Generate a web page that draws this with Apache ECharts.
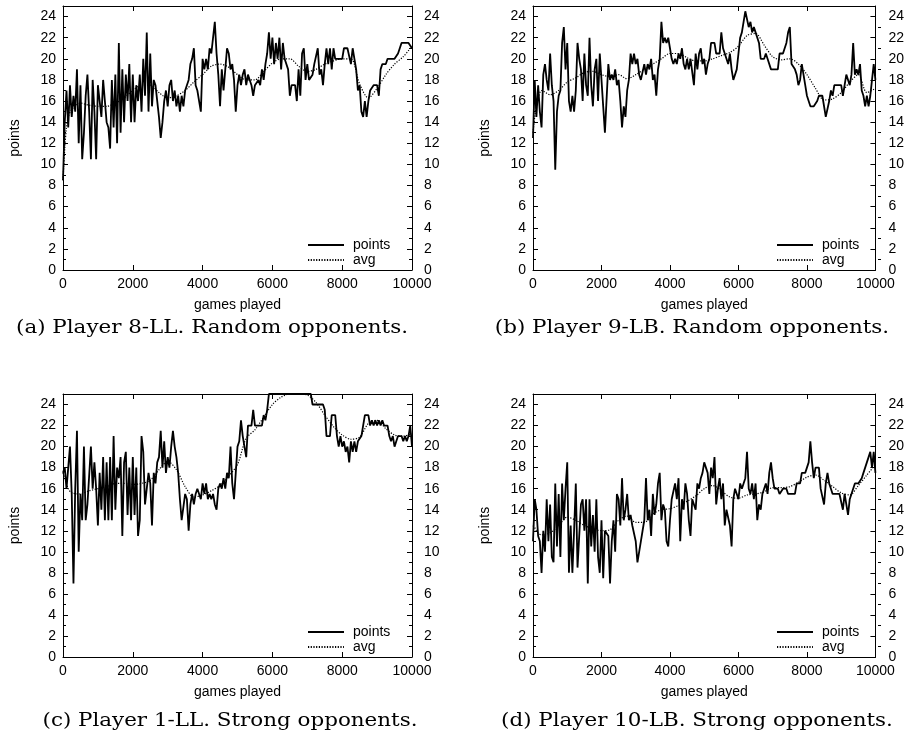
<!DOCTYPE html>
<html><head><meta charset="utf-8">
<script src="https://cdn.jsdelivr.net/npm/echarts@6/dist/echarts.min.js"></script>
<style>html,body{margin:0;padding:0;background:#fff}#c{width:907px;height:737px}</style>
</head><body><div id="c"></div>
<script>
// ---------- data ----------
const GAMES = [0,50,100,150,200,250,300,350,400,450,500,550,600,650,700,750,800,850,900,950,
1000,1050,1100,1150,1200,1250,1300,1350,1400,1450,1500,1550,1600,1650,1700,1750,1800,1850,1900,1950,
2000,2050,2100,2150,2200,2250,2300,2350,2400,2450,2500,2550,2600,2650,2700,2750,2800,2850,2900,2950,
3000,3050,3100,3150,3200,3250,3300,3350,3400,3450,3500,3550,3600,3650,3700,3750,3800,3850,3900,3950,
4000,4050,4100,4150,4200,4250,4300,4350,4400,4450,4500,4550,4600,4650,4700,4750,4800,4850,4900,4950,
5000,5050,5100,5150,5200,5250,5300,5350,5400,5450,5500,5550,5600,5650,5700,5750,5800,5850,5900,5950,
6000,6050,6100,6150,6200,6250,6300,6350,6400,6450,6500,6550,6600,6650,6700,6750,6800,6850,6900,6950,
7000,7050,7100,7150,7200,7250,7300,7350,7400,7450,7500,7550,7600,7650,7700,7750,7800,7850,7900,7950,
8000,8050,8100,8150,8200,8250,8300,8350,8400,8450,8500,8550,8600,8650,8700,8750,8800,8850,8900,8950,
9000,9050,9100,9150,9200,9250,9300,9350,9400,9450,9500,9550,9600,9650,9700,9750,9800,9850,9900,9950,
10000];
const AVG_GAMES = [0,50,100,150,250,500,750,1000,1250,1500,1750,2000,2250,2500,2750,3000,3250,3500,3750,4000,
4250,4500,4750,5000,5250,5500,5750,6000,6250,6500,6750,7000,7250,7500,7750,8000,8250,8500,8750,9000,
9250,9500,9750,10000];

const POINTS_A = [8.5,14,17,13.5,17.5,14.5,16.5,15,19,12,17.5,10.5,
13,16.5,18.5,15,10.5,18,15,10.5,17.5,16,14.5,18,16,14,13.5,11.5,18,13.5,18.5,12,
21.5,13,19,14,18.5,16,19.5,14,18.5,14,17.5,16,18.5,15,20,16.5,22.5,15,20.5,15.5,18,
17.5,16,14.5,12.5,14,16,17,15.5,17.5,18,16,17,15.5,16.5,15,16.5,15.5,17,17.5,18,19.5,20,
21,17.5,17,16,15,20,19,20,19,21,20.5,22,23.5,20.5,18.5,15.5,19,17,19,21,20.5,
19,19.5,18,15,17.5,18.5,17.5,18.5,19,17.5,18.5,18,17.5,16.5,17.5,17.5,18,17.5,19,18,19.5,
20.5,22.5,20,22,19.5,21.5,20,22,19,21.5,20,20,19,16.5,17.5,17.5,17.5,16,19,16.5,20.5,21,
18,19.5,18,18,18.5,19.5,19.5,21,18.5,19,17.5,19.5,21,19.5,21,19,21,20,20,20,20,
20,21,21,21,21,19.5,21,20,19,17,17.5,15,14.5,16,14.5,16,17,17,17.5,17.5,17.5,
16.5,19,19.5,19.5,19.5,20,20,20,20,20,20,20.5,21,21.5,21.5,21.5,21.5,21.5,21.5,21];
const AVG_A = [8.5,11.5,13.5,14.5,15.2,15.8,15.6,15.5,15.5,15.8,16.3,17,17.5,17.5,16.8,16.3,16.5,17,17.8,18.5,
19.3,19.5,19.2,18.5,18,18,18.8,19.6,20,20,19.3,18.8,19,19.5,19.8,20,20,17.6,16.3,17.2,
18.5,19.5,20.2,21.2];

const POINTS_B = [12.5,18,14.5,17.5,15,13.5,18.5,19.5,18,17,
20.5,17.5,16,9.5,15,16.5,17,21.5,23,19,
21.5,16,15,16.5,15,17,21.5,20,19,16,
20.5,17.5,16.5,22,17.5,15.5,19,20,16,20.5,
18,15.5,13,13,19.5,18,18.5,18,19,17.5,
18,16,13.5,15.5,14.5,17,18,20.5,19.5,20.5,
19.5,20,18.5,18,18,19.5,18.5,19.5,19,20,
18,18.5,16.5,19,20,23.5,21.5,22,21.5,22,
21,20,19.5,20,19.5,20.5,20,21,19.5,19,
20,19,20,20,17.5,20.5,19,20.5,21,19.5,
20,18.5,19.5,20,21.5,21.5,21.5,20.5,20.5,20.5,
22.5,21,20.5,20,19.5,20.5,19,18,18,19,
20.5,22,22.5,23.5,24.5,24.5,23,23.5,22.5,23,
22.5,22.5,21.5,20,20,20,20.5,20,20,19,
19,19,19,19,20.5,20.5,20.5,20.5,21.5,22.5,
23,19.5,19.5,19,18.5,17.5,18,19.5,18.5,17.5,
16.5,16,15.5,15.5,15.5,15.5,16,16.5,16.5,16.5,
16.5,14.5,14.5,16,17,16.5,17.5,17.5,17.5,17.5,
17.5,16.5,17.5,18.5,18.5,17.5,18.5,21.5,18.5,19,
18.5,19.5,17,16.5,15.5,16.5,15.5,16.5,16.5,19.5,
18];
const AVG_B = [13,14.5,15.5,16.3,17,16.6,17,17.8,18.2,18.7,18.8,18.5,18.3,18.5,18.1,18.5,19,19.5,20,20.5,
20.5,20.1,19.8,19.8,20,20.3,20.6,21.2,22.2,22.4,21.3,20.2,19.9,20,19.5,18.5,17.2,16.1,16.2,16.8,
17.8,18.5,16.8,17.2];

const POINTS_C = [17.5,18,16,18,20,15.5,7,16,21.5,10,
15.5,13,20,13,14.5,14.5,20,16,18.5,16,
12.5,17.5,14,19,13,18.5,13,19,13,21,
14,18,17,19,11.5,18.5,19.5,13.5,18,13,
19,13.5,18,11.5,13,21,19.5,14.5,16,17.5,
16.5,12.5,17.5,16.5,18.5,19,21.5,18,20.5,17.5,
19,18,20,21.5,20,19,17.5,15,13,13,
15.5,15,12,14.5,15.5,14.5,15.5,16,15.5,15,
16.5,15.5,16.5,15,15.5,15,15.5,14.5,14,16,
16.5,16,17,16,17.5,17,20,16.5,15,17.5,
20,20.5,22.5,21,20,19,22,22,22,23.5,
22,22,22,22,22,23,22.5,23.5,25,25,
25,25,25,25,25,25,25,25,25,25,25,25,25,25,25,25,25,25,25,25,25,25,25,
24,24,24,24,24,24,24,
23.5,21,21,21,23,23,23,21,20,21,
20,20.5,19.5,20,18.5,20.5,19.5,20.5,19.5,20.5,
20.5,21,22,23,23,23,22,22.5,22,22.5,
22,22.5,22,22.5,22,22,22,21,20.5,21,
20,20.5,21,21,21,20.5,21,20.5,21,22,
20];
const AVG_C = [17.5,17,16.5,16,15.6,15.5,15.8,16,16.2,16.5,16.5,16.4,16.5,16.8,17.8,18.6,17.8,16.2,15.2,15.4,
15.8,16.3,17.2,18.3,20.8,21.6,22.8,24,24.7,25,25,24.9,24.2,23,21.9,21.1,20.7,20.9,22.2,22.5,
21.7,21.1,21,21.2];

const POINTS_D = [11,15,14,11.5,11,8,12,10,15,11,
14.5,9.5,9,16.5,10.5,15.5,9.5,16.5,13,16,
18.5,8,12.5,8,12,16.5,8.5,11.5,14.5,15,
12,15,7,15,10.5,13.5,10,15,9.5,8,
13,7.5,12,12,11.5,7,11,13,10,15.5,
15,12.5,17,13,14,15.5,13,13.5,12.5,12.5,
11,9,9,11,12,13,17,13,14,11.5,
15.5,13.5,14.5,16.5,17.5,13,14.5,14,11,10.5,
13,15,15,16.5,15,17,11,15,14,16.5,
15.5,13,11.5,15,15,14,16.5,16,17,17.5,
18.5,18,17.5,15.5,18,17,19,14.5,16,17,
15,16.5,12.5,14,14,12.5,10.5,15,16,16,
15,16.5,16,16.5,17,19.5,16,15.5,16.5,15,
16.5,13,14.5,14,15.5,16,16.5,15.5,17.5,18.5,
17,16,16,16,15.5,15.5,16,16,16,15.5,
15.5,15.5,15.5,15.5,16.5,16.5,16.5,17.5,17.5,17.5,
17.5,18.5,20.5,18.5,17,18,18,18,16,16,
14.5,16.5,17.5,16.5,16,15.5,15.5,15.5,15.5,15.5,
15.5,14,15.5,15.5,13.5,15,15.5,15.5,16.5,16.5,
16.5,16.5,17,17.5,17.5,18.5,19,19.5,18,19.5,
17.5];
const AVG_D = [12.5,12.3,12,11.8,11.6,11.8,12.5,13.3,13,12.5,12.2,12,12.1,13,13.4,12.8,12.8,13.6,14,14.1,
14.4,14.8,15.3,16,16.3,15.8,15.2,15.1,15.4,15.5,15.7,16.1,16.1,16.2,16.6,17.1,17.3,16.8,16.2,15.6,
15.4,16.3,17.3,18.3];

const X_TICKS = [0,2000,4000,6000,8000,10000];
const Y_TICKS = [0,2,4,6,8,10,12,14,16,18,20,22,24];
const Y_MINOR = [1,3,5,7,9,11,13,15,17,19,21,23];
const SERIES_NAMES = ['points','avg'];
const CAPTIONS = ['(a) Player 8-LL. Random opponents.','(b) Player 9-LB. Random opponents.',
                  '(c) Player 1-LL. Strong opponents.','(d) Player 10-LB. Strong opponents.'];
const PANELS = [
  {points: POINTS_A, avg: AVG_A},
  {points: POINTS_B, avg: AVG_B},
  {points: POINTS_C, avg: AVG_C},
  {points: POINTS_D, avg: AVG_D}
];

// ---------- layout ----------
const GRIDS = [
  {left:63, top:6, width:349, height:264},
  {left:533, top:6, width:348, height:264},
  {left:63, top:394, width:349, height:263},
  {left:533, top:394, width:348, height:263}
];
const RIGHT_MARGIN = [12, 13, 12, 13];
const LEGEND_POS = [[307,238],[776,238],[307,625],[776,625]];
const CAPTION_POS = [[212,328],[692,328],[230,721],[697,721]];
const FONT = '"Liberation Sans", Arial, Helvetica, sans-serif';
const SERIF = '"DejaVu Serif", "Liberation Serif", serif';
const BLACK = '#000';

const axisLine = {show:true, onZero:false, lineStyle:{color:BLACK, width:1}};
const labelStyle = {color:BLACK, fontSize:14, fontFamily:FONT};
const plain = v => String(v);

const option = {animation:false, backgroundColor:'#fff', grid:[], xAxis:[], yAxis:[], series:[], legend:[], graphic:[]};

PANELS.forEach((p,i)=>option.grid.push(Object.assign({containLabel:false}, GRIDS[i])));
PANELS.forEach((p,i)=>option.grid.push(Object.assign({containLabel:false}, GRIDS[i])));

PANELS.forEach((p,i)=>{
  option.xAxis.push({gridIndex:i, type:'value', position:'bottom', min:0, max:10000,
    axisLine, splitLine:{show:false},
    axisTick:{show:true, inside:true, length:5, customValues:X_TICKS, lineStyle:{color:BLACK}},
    axisLabel:Object.assign({customValues:X_TICKS, margin:7, formatter:plain}, labelStyle),
    name:'games played', nameLocation:'middle', nameGap:28, nameTextStyle:labelStyle});
  option.xAxis.push({gridIndex:i, type:'value', position:'top', min:0, max:10000,
    axisLine, splitLine:{show:false},
    axisTick:{show:true, inside:true, length:5, customValues:X_TICKS, lineStyle:{color:BLACK}},
    axisLabel:{show:false}});
  option.yAxis.push({gridIndex:i, type:'value', position:'left', min:0, max:25,
    axisLine, splitLine:{show:false},
    axisTick:{show:true, inside:true, length:5, customValues:Y_TICKS, lineStyle:{color:BLACK}},
    axisLabel:Object.assign({customValues:Y_TICKS, margin:7, formatter:plain}, labelStyle),
    name:'points', nameLocation:'middle', nameRotate:90, nameGap:41, nameTextStyle:labelStyle});
  option.yAxis.push({gridIndex:i, type:'value', position:'right', min:0, max:25,
    axisLine, splitLine:{show:false},
    axisTick:{show:true, inside:true, length:5, customValues:Y_TICKS, lineStyle:{color:BLACK}},
    axisLabel:Object.assign({customValues:Y_TICKS, margin:RIGHT_MARGIN[i], formatter:plain}, labelStyle)});
});
PANELS.forEach((p,i)=>{
  option.xAxis.push({gridIndex:4+i, type:'value', min:0, max:10000, show:false});
  ['left','right'].forEach(pos=>option.yAxis.push({gridIndex:4+i, type:'value', position:pos, min:0, max:25,
    axisLine:{show:false}, splitLine:{show:false}, axisLabel:{show:false},
    axisTick:{show:true, inside:true, length:3, customValues:Y_MINOR, lineStyle:{color:BLACK}}}));
});

PANELS.forEach((p,i)=>{
  option.series.push({type:'line', name:SERIES_NAMES[0], xAxisIndex:2*i, yAxisIndex:2*i,
    data:GAMES.map((g,j)=>[g,p.points[j]]), symbol:'none', showSymbol:false,
    lineStyle:{color:BLACK, width:1.8}, itemStyle:{color:BLACK}, z:3, silent:true, clip:true});
  option.series.push({type:'line', name:SERIES_NAMES[1], xAxisIndex:2*i, yAxisIndex:2*i,
    data:AVG_GAMES.map((g,j)=>[g,p.avg[j]]), symbol:'none', showSymbol:false, smooth:0.3,
    lineStyle:{color:BLACK, width:1.2, type:[1.2,1.5]}, itemStyle:{color:BLACK}, z:4, silent:true, clip:true});
  option.legend.push({left:LEGEND_POS[i][0], top:LEGEND_POS[i][1], orient:'vertical', padding:0,
    itemWidth:36, itemHeight:14, itemGap:1, selectedMode:false, data:SERIES_NAMES,
    itemStyle:{color:'rgba(0,0,0,0)', borderColor:'rgba(0,0,0,0)', borderWidth:0, opacity:0},
    textStyle:Object.assign({padding:[0,0,0,4]}, labelStyle)});
  option.graphic.push({type:'text', x:CAPTION_POS[i][0], y:CAPTION_POS[i][1], scaleX:1.19, scaleY:1,
    style:{text:CAPTIONS[i], fill:BLACK, font:'18px ' + SERIF, fontSize:18, fontFamily:SERIF,
      align:'center', verticalAlign:'middle', textAlign:'center', textVerticalAlign:'middle'}});
});

const chart = echarts.init(document.getElementById('c'), null, {renderer:'canvas'});
chart.setOption(option);
</script>
</body></html>
